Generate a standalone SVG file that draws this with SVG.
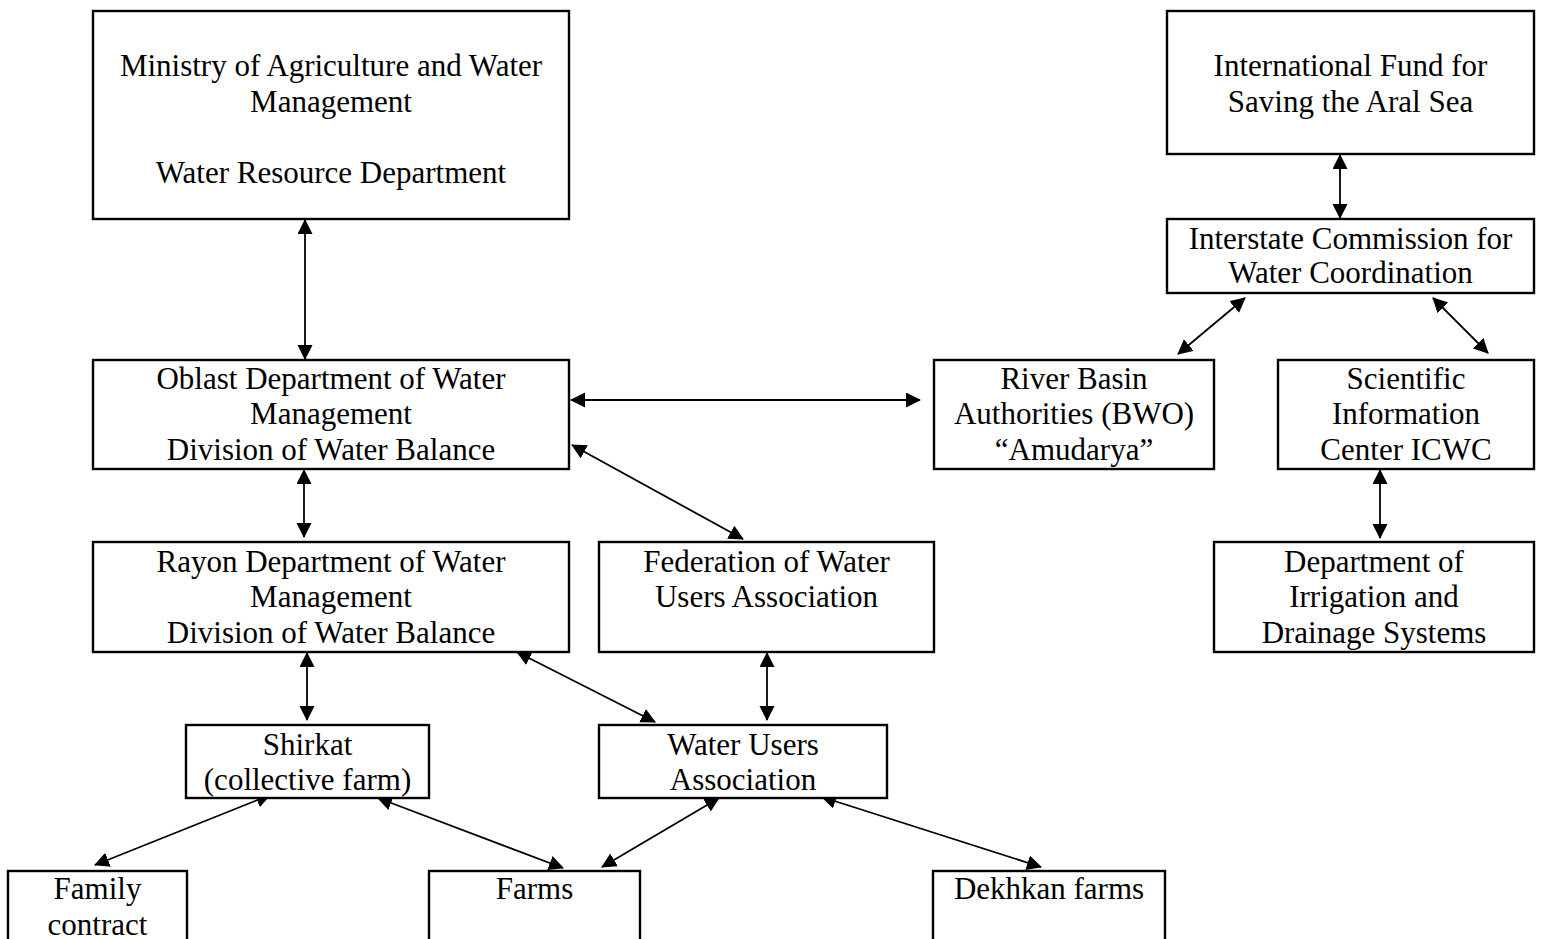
<svg xmlns="http://www.w3.org/2000/svg" width="1545" height="939" viewBox="0 0 1545 939">
<style>
.box{fill:#fff;stroke:#000;stroke-width:2.4}
.lbl{font-family:"Liberation Serif","Times New Roman",serif;font-size:31px;fill:#000;text-anchor:middle}
.con{stroke:#000;stroke-width:1.8;fill:none;marker-start:url(#ah);marker-end:url(#ah)}
</style>
<defs>
<marker id="ah" markerUnits="userSpaceOnUse" markerWidth="16" markerHeight="16" viewBox="0 0 16 16" refX="14" refY="7.5" orient="auto-start-reverse">
<path d="M0,0 L15,7.5 L0,15 z" fill="#000"/>
</marker>
</defs>
<rect width="1545" height="939" fill="#fff"/>
<g id="connectors">
<line class="con" x1="305" y1="220" x2="305" y2="359"/>
<line class="con" x1="1340" y1="155" x2="1340" y2="218"/>
<line class="con" x1="1245" y1="298" x2="1178" y2="354"/>
<line class="con" x1="1433" y1="298" x2="1488" y2="353"/>
<line class="con" x1="571" y1="400" x2="920" y2="400"/>
<line class="con" x1="572" y1="445" x2="743" y2="539"/>
<line class="con" x1="304" y1="470" x2="304" y2="537"/>
<line class="con" x1="1380" y1="470" x2="1380" y2="538"/>
<line class="con" x1="307" y1="653" x2="307" y2="720"/>
<line class="con" x1="517" y1="652" x2="655" y2="722"/>
<line class="con" x1="767" y1="653" x2="767" y2="720"/>
<line class="con" x1="270" y1="795" x2="95" y2="865"/>
<line class="con" x1="378" y1="798" x2="563" y2="868"/>
<line class="con" x1="719" y1="798" x2="602" y2="867"/>
<line class="con" x1="822" y1="797" x2="1041" y2="867"/>
</g>
<g id="ministry">
<rect class="box" x="93" y="11" width="476" height="208"/>
<text class="lbl" x="331" y="76">Ministry of Agriculture and Water</text>
<text class="lbl" x="331" y="111.5">Management</text>
<text class="lbl" x="331" y="182.5">Water Resource Department</text>
</g>
<g id="ifas">
<rect class="box" x="1167" y="11" width="367" height="143"/>
<text class="lbl" x="1350.5" y="76">International Fund for</text>
<text class="lbl" x="1350.5" y="111.5">Saving the Aral Sea</text>
</g>
<g id="icwc">
<rect class="box" x="1167" y="219" width="367" height="74"/>
<text class="lbl" x="1350.5" y="249">Interstate Commission for</text>
<text class="lbl" x="1350.5" y="283">Water Coordination</text>
</g>
<g id="oblast">
<rect class="box" x="93" y="360" width="476" height="109"/>
<text class="lbl" x="331" y="388.5">Oblast Department of Water</text>
<text class="lbl" x="331" y="424">Management</text>
<text class="lbl" x="331" y="459.5">Division of Water Balance</text>
</g>
<g id="river-basin">
<rect class="box" x="934" y="360" width="280" height="109"/>
<text class="lbl" x="1074" y="388.5">River Basin</text>
<text class="lbl" x="1074" y="424">Authorities (BWO)</text>
<text class="lbl" x="1074" y="459.5">“Amudarya”</text>
</g>
<g id="sic">
<rect class="box" x="1278" y="360" width="256" height="109"/>
<text class="lbl" x="1406" y="388.5">Scientific</text>
<text class="lbl" x="1406" y="424">Information</text>
<text class="lbl" x="1406" y="459.5">Center ICWC</text>
</g>
<g id="rayon">
<rect class="box" x="93" y="542" width="476" height="110"/>
<text class="lbl" x="331" y="571.5">Rayon Department of Water</text>
<text class="lbl" x="331" y="607">Management</text>
<text class="lbl" x="331" y="642.5">Division of Water Balance</text>
</g>
<g id="federation">
<rect class="box" x="599" y="542" width="335" height="110"/>
<text class="lbl" x="766.5" y="571.5">Federation of Water</text>
<text class="lbl" x="766.5" y="607">Users Association</text>
</g>
<g id="dept-irrigation">
<rect class="box" x="1214" y="542" width="320" height="110"/>
<text class="lbl" x="1374" y="571.5">Department of</text>
<text class="lbl" x="1374" y="607">Irrigation and</text>
<text class="lbl" x="1374" y="642.5">Drainage Systems</text>
</g>
<g id="shirkat">
<rect class="box" x="186" y="725" width="243" height="73"/>
<text class="lbl" x="307.5" y="754.5">Shirkat</text>
<text class="lbl" x="307.5" y="790">(collective farm)</text>
</g>
<g id="wua">
<rect class="box" x="599" y="725" width="288" height="73"/>
<text class="lbl" x="743" y="754.5">Water Users</text>
<text class="lbl" x="743" y="790">Association</text>
</g>
<g id="family">
<rect class="box" x="8" y="871" width="179" height="90"/>
<text class="lbl" x="97.5" y="899">Family</text>
<text class="lbl" x="97.5" y="935">contract</text>
</g>
<g id="farms">
<rect class="box" x="429" y="871" width="211" height="90"/>
<text class="lbl" x="534.5" y="899">Farms</text>
</g>
<g id="dekhkan">
<rect class="box" x="933" y="871" width="232" height="90"/>
<text class="lbl" x="1049" y="899">Dekhkan farms</text>
</g>
</svg>
